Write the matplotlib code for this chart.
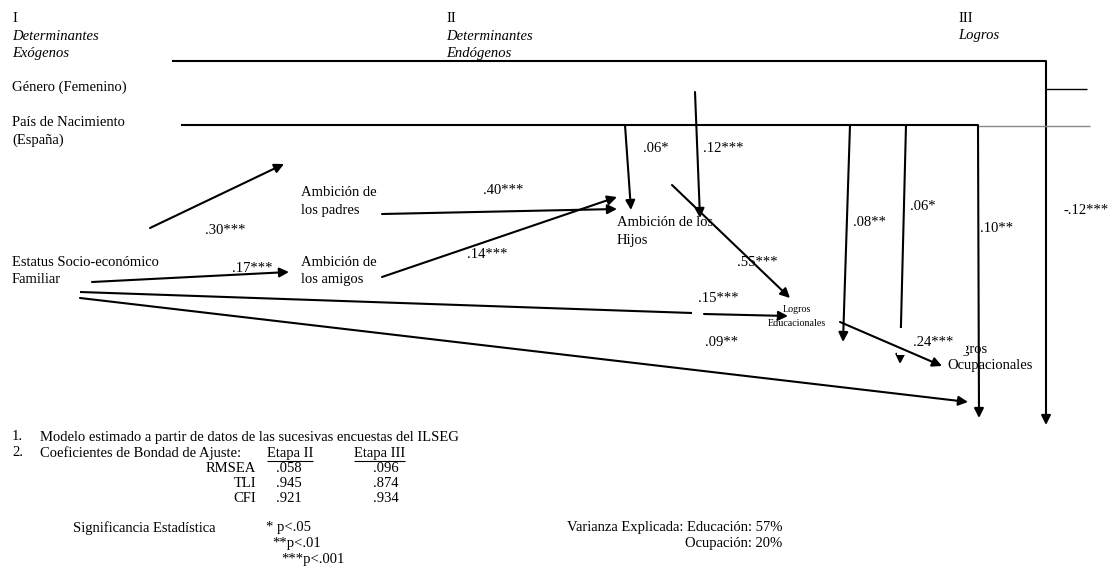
import matplotlib
matplotlib.use("Agg")
import matplotlib.pyplot as plt
from matplotlib.patches import Rectangle

# ---------------- data ----------------
stage_numbers = ["I", "II", "III"]
stage_names = [["Determinantes", "Exógenos"], ["Determinantes", "Endógenos"], ["Logros"]]
exo_genero = ["Género (Femenino)"]
exo_pais = ["País de Nacimiento", "(España)"]
exo_ses = ["Estatus Socio-económico", "Familiar"]
endo_padres = ["Ambición de", "los padres"]
endo_amigos = ["Ambición de", "los amigos"]
endo_hijos = ["Ambición de los", "Hijos"]
out_edu = ["Logros", "Educacionales"]
out_ocu = ["Logros", "Ocupacionales"]
# path coefficients (standardised) with significance stars
coef_ses_padres = ".30***"
coef_ses_amigos = ".17***"
coef_padres_hijos = ".40***"
coef_amigos_hijos = ".14***"
coef_pais_hijos = ".06*"
coef_genero_hijos = ".12***"
coef_hijos_edu = ".55***"
coef_ses_edu = ".15***"
coef_ses_ocu = ".09**"
coef_edu_ocu = ".24***"
coef_pais_edu = ".08**"
coef_pais_ocu = ".06*"
coef_pais_ocu2 = ".10**"
coef_genero_ocu = "-.12***"
notes = ["Modelo estimado a partir de datos de las sucesivas encuestas del ILSEG",
         "Coeficientes de Bondad de Ajuste:"]
fit_index = ["RMSEA", "TLI", "CFI"]
fit_stage_names = ["Etapa II", "Etapa III"]
fit_stage2 = [".058", ".945", ".921"]
fit_stage3 = [".096", ".874", ".934"]
sig_labels = ["* p<.05", "**p<.01", "***p<.001"]
var_educacion = 57
var_ocupacion = 20

# ---------------- figure ----------------
W, H = 1112, 585
fig = plt.figure(figsize=(W / 100, H / 100), dpi=100)
ax = fig.add_axes([0, 0, 1, 1])
ax.set_xlim(0, W)
ax.set_ylim(H, 0)
ax.axis("off")

FONT = "Liberation Serif"
FS = 10.5
LW = 1.5


def txt(x, y, s, fs=FS, ha="left", va="center", style="normal", z=3, **kw):
    return ax.text(x, y, s, fontsize=fs, family=FONT, ha=ha, va=va,
                   fontstyle=style, zorder=z, **kw)


def block(x, y, lines, step=17.5, **kw):
    for k, s in enumerate(lines):
        txt(x, y + step * k, s, **kw)


def line(pts, lw=LW, color="black", z=2):
    xs = [p[0] for p in pts]
    ys = [p[1] for p in pts]
    ax.plot(xs, ys, color=color, lw=lw, zorder=z, solid_capstyle="butt")


def arrow(p0, p1, lw=LW, z=2, ms=14):
    ax.annotate("", xy=p1, xytext=p0,
                arrowprops=dict(arrowstyle="-|>", lw=lw, color="black",
                                mutation_scale=ms, shrinkA=0, shrinkB=0),
                zorder=z)


# stage headers
header_x = [12, 446, 958]
for hx, num, names in zip(header_x, stage_numbers, stage_names):
    txt(hx, 18, num)
    block(hx, 36, names, style="italic")

# exogenous labels
block(12, 87, exo_genero)
block(12, 123, exo_pais)
block(12, 262, exo_ses)

# endogenous labels
block(301, 193, endo_padres)
block(301, 262, endo_amigos)
block(617, 223, endo_hijos)

# outcomes
block(797, 310, out_edu, step=14, fs=7.2, ha="center", z=1)
block(947, 350, out_ocu, step=16, z=1)

# long horizontal lines (Género and País)
line([(172, 61), (1046, 61)])
arrow((1046, 61), (1046, 425))
line([(1046, 89), (1087, 89)], lw=1.0)
line([(181, 125), (978, 125)])
line([(978, 126), (1090, 126)], lw=1.0, color="#888888")

# gender / country -> Hijos
arrow((625, 125), (631, 210))
arrow((695, 92), (700, 218))
txt(643, 148, coef_pais_hijos)
txt(703, 148, coef_genero_hijos)

# country -> outcomes
arrow((850, 125), (843, 342))
txt(853, 222, coef_pais_edu)
arrow((906, 125), (900, 364), z=1)
txt(910, 207, coef_pais_ocu)
arrow((978, 125), (979, 418), z=4)
txt(980, 228, coef_pais_ocu2)
txt(1064, 210, coef_genero_ocu)

# SES -> ambitions
arrow((150, 228), (284, 164))
txt(205, 230, coef_ses_padres)
arrow((92, 282), (289, 272))
txt(232, 268, coef_ses_amigos)

# ambitions -> Hijos
arrow((382, 214), (617, 209))
txt(483, 190, coef_padres_hijos)
arrow((382, 277), (617, 197))
txt(467, 254, coef_amigos_hijos)

# Hijos -> Educación
arrow((672, 185), (790, 298))
txt(737, 263, coef_hijos_edu)

# SES -> Educación
line([(80, 292), (692, 313)])
arrow((704, 314), (788, 316))
txt(698, 298, coef_ses_edu)

# SES -> Ocupación
arrow((80, 298), (968, 402))
txt(705, 343, coef_ses_ocu)

# Educación -> Ocupación
ax.add_patch(Rectangle((897, 328), 69, 27, facecolor="white", edgecolor="none", zorder=2))
txt(913, 342, coef_edu_ocu, z=3)
arrow((840, 322), (942, 366), z=4)

# ---------------- notes ----------------
txt(12, 437, "1.")
txt(40, 437, notes[0])
txt(12, 453, "2.")
txt(40, 453, notes[1])
stage_txt = [txt(267, 453, fit_stage_names[0]), txt(354, 453, fit_stage_names[1])]
fig.canvas.draw()
rend = fig.canvas.get_renderer()
inv = ax.transData.inverted()
for t in stage_txt:
    bb = t.get_window_extent(rend)
    (x0, _), (x1, _) = inv.transform([(bb.x0, bb.y0), (bb.x1, bb.y0)])
    line([(x0, 461), (x1, 461)], lw=0.8)

for k, (nm, v2, v3) in enumerate(zip(fit_index, fit_stage2, fit_stage3)):
    yy = 468 + 15.5 * k
    txt(256, yy, nm, ha="right")
    txt(289, yy, v2, ha="center")
    txt(386, yy, v3, ha="center")

txt(73, 528, "Significancia Estadística")
sig_x = [266, 272, 281]
for k, (sx, s) in enumerate(zip(sig_x, sig_labels)):
    txt(sx, 528 + 16 * k, s)

txt(567, 528, f"Varianza Explicada: Educación: {var_educacion}%")
txt(782, 544, f"Ocupación: {var_ocupacion}%", ha="right")

fig.savefig("out.png", dpi=100, facecolor="white")
